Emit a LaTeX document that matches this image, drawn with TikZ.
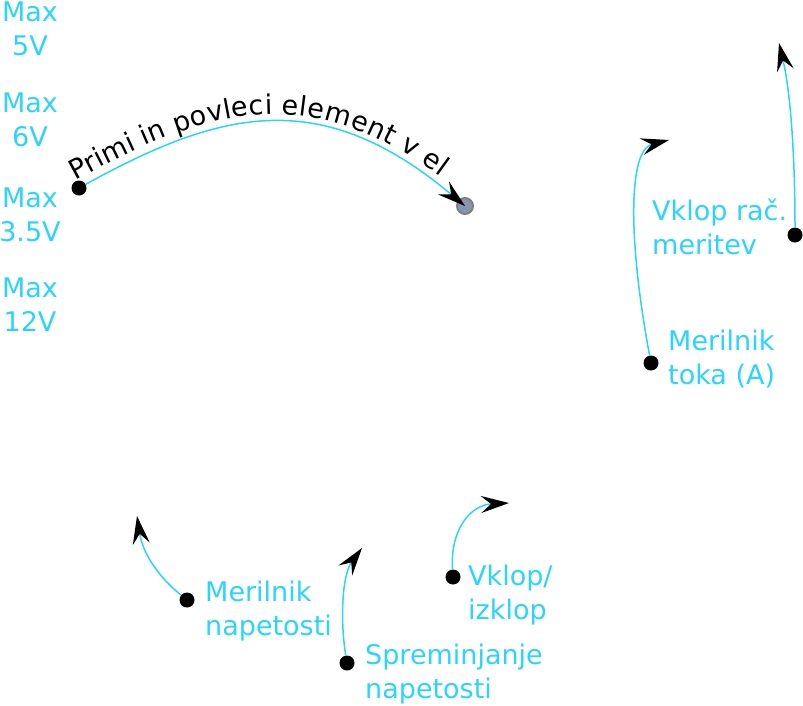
\documentclass[tikz,border=0pt]{standalone}
\usepackage{fontspec}
\setmainfont{DejaVu Sans}
\usetikzlibrary{arrows.meta,decorations.text,positioning}
\definecolor{hintcyan}{HTML}{2AD4FF}
\definecolor{elemfill}{HTML}{8796B0}
\tikzset{>={Stealth[color=black,length=28pt,width=17pt,inset=10pt]}}
\tikzset{
  pin/.style={circle, fill=black, inner sep=0pt, minimum size=15pt},
  maxlabel/.style={text=hintcyan, align=center, inner sep=0pt, anchor=base},
  hint/.style={text=hintcyan, align=left, inner sep=0pt, anchor=base west},
  hintline/.style={draw=hintcyan, line width=1.5pt, ->},
}

\begin{document}
\begin{tikzpicture}[x=1pt, y=-1pt, font=\fontsize{27}{34}\selectfont]
      \useasboundingbox (0,0) rectangle (803,705);
      % voltage limits (anchored at the last line)
      \node[maxlabel] (max5) at (30,55) {Max\\5V};
      \node[maxlabel] (max6) at (30,146) {Max\\6V};
      \node[maxlabel] (max35) at (30,241) {Max\\3.5V};
      \node[maxlabel] (max12) at (30,331) {Max\\12V};
      % drag hint
      \node[circle, fill=elemfill, draw=gray, line width=2pt, minimum size=16pt, inner sep=0pt] (elem) at (465,206) {};
      \node[pin] (drag) at (79,188) {};
      \draw[hintline] (drag) .. controls (219,111) and (320,84) .. (elem.center);
      \path[decorate, decoration={text along path, raise=8pt, text={|\fontsize{27}{27}\selectfont|Primi in povleci element v el}}] (drag.center) .. controls (219,111) and (320,84) .. (elem.center);
      % controls
      \node[pin] (toka) at (651,363) {};
      \coordinate (tokaend) at (669,140);
      \node[hint] (tokatext) at (668,384) {Merilnik\\toka (A)};
      \draw[hintline] (toka) .. controls (628,240) and (628,150) .. (tokaend);
      \node[pin] (racun) at (795,235) {};
      \coordinate (racunend) at (779,43);
      \node[hint] (racuntext) at (652,254) {Vklop rač.\\meritev};
      \draw[hintline] (racun) .. controls (795,150) and (790,90) .. (racunend);
      \node[pin] (volt) at (187,600) {};
      \coordinate (voltend) at (137,516);
      \node[hint] (volttext) at (205,635) {Merilnik\\napetosti};
      \draw[hintline] (volt) .. controls (160,578) and (143,555) .. (voltend);
      \node[pin] (nap) at (347,663) {};
      \coordinate (napend) at (362,548);
      \node[hint] (naptext) at (365,698) {Spreminjanje\\napetosti};
      \draw[hintline] (nap) .. controls (340,620) and (342,575) .. (napend);
      \node[pin] (vklop) at (453,577) {};
      \coordinate (vklopend) at (509,503);
      \node[hint] (vklotext) at (468,619) {Vklop/\\izklop};
      \draw[hintline] (vklop) .. controls (450,530) and (470,505) .. (vklopend);
\end{tikzpicture}
\end{document}
